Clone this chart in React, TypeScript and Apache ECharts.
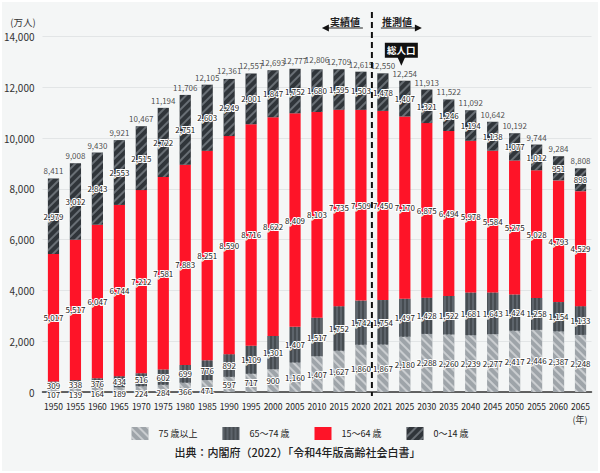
import React, { useEffect, useRef } from "react";
import * as echarts from "echarts";

const years = ["1950","1955","1960","1965","1970","1975","1980","1985","1990","1995","2000","2005","2010","2015","2020","2021","2025","2030","2035","2040","2045","2050","2055","2060","2065"];
const age75plus = [107,139,164,189,224,284,366,471,597,717,900,1160,1407,1627,1860,1867,2180,2288,2260,2239,2277,2417,2446,2387,2248];
const age65to74 = [309,338,376,434,516,602,699,776,892,1109,1301,1407,1517,1752,1742,1754,1497,1428,1522,1681,1643,1424,1258,1154,1133];
const age15to64 = [5017,5517,6047,6744,7212,7581,7883,8251,8590,8716,8622,8409,8103,7735,7509,7450,7170,6875,6494,5978,5584,5275,5028,4793,4529];
const age0to14 = [2979,3012,2843,2553,2515,2722,2751,2603,2249,2001,1847,1752,1680,1595,1503,1478,1407,1321,1246,1194,1138,1077,1012,951,898];
const totals = [8411,9008,9430,9921,10467,11194,11706,12105,12361,12557,12693,12777,12806,12709,12615,12550,12254,11913,11522,11092,10642,10192,9744,9284,8808];
const seriesNames = ["75 歳以上", "65～74 歳", "15～64 歳", "0～14 歳"];
const yTicks = { min: 0, max: 14000, interval: 2000 };

const FONT = "'Noto Sans CJK JP', 'Noto Sans', sans-serif";
const fmt = (v: number) => Number(v).toLocaleString("en-US");

export default function App() {
  const ref = useRef<HTMLDivElement>(null);
  useEffect(() => {
    if (!ref.current) return;
    const chart = echarts.init(ref.current, null, { renderer: "svg" });
    const inside = {
      show: true,
      position: "inside",
      fontSize: 8,
      fontFamily: FONT,
      color: "#222",
      textBorderColor: "#fff",
      textBorderWidth: 2,
      formatter: (p: any) => fmt(p.value),
    };
    // thin bottom segments: nudge their labels down a little, as in the reference
    const age75Data = age75plus.map((v) => (v < 500 ? { value: v, label: { offset: [0, 4] } } : v));
    chart.setOption({
      animation: false,
      backgroundColor: "#f4f6f6",
      textStyle: { fontFamily: FONT },
      grid: { left: 42.5, right: 8.5, top: 36.5, bottom: 81, containLabel: false },
      legend: {
        data: seriesNames,
        top: 422,
        left: "center",
        itemWidth: 17,
        itemHeight: 13,
        itemGap: 25,
        icon: "rect",
        textStyle: { fontSize: 9, color: "#222", fontFamily: FONT, padding: [0, 0, 0, 5] },
        selectedMode: false,
      },
      xAxis: {
        type: "category",
        data: years,
        axisTick: { show: false },
        axisLine: { lineStyle: { color: "#333", width: 1.5 } },
        axisLabel: { interval: 0, fontSize: 8.5, color: "#222", margin: 10, fontFamily: FONT },
      },
      yAxis: {
        type: "value",
        min: yTicks.min,
        max: yTicks.max,
        interval: yTicks.interval,
        axisLine: { show: false },
        axisTick: { show: false },
        splitLine: { lineStyle: { color: "#e2e5e6", width: 1 } },
        axisLabel: { fontSize: 10, color: "#333", margin: 8, fontFamily: FONT, formatter: (v: number) => fmt(v) },
      },
      series: [
        {
          name: seriesNames[0], type: "bar", stack: "pop", barWidth: "51%", data: age75Data,
          itemStyle: { color: "#9ea4a9", decal: { symbol: "rect", symbolSize: 1, color: "rgba(255,255,255,0.45)", dashArrayX: [1, 0], dashArrayY: [2, 4], rotation: Math.PI / 4 } },
          label: inside,
        },
        {
          name: seriesNames[1], type: "bar", stack: "pop", data: age65to74,
          itemStyle: { color: "#5d646b", decal: { symbol: "rect", symbolSize: 1, color: "rgba(60,65,70,0.7)", dashArrayX: [1, 0], dashArrayY: [2, 2], rotation: Math.PI / 2 } },
          label: inside,
        },
        {
          name: seriesNames[2], type: "bar", stack: "pop", data: age15to64,
          itemStyle: { color: "#fe1428" },
          label: inside,
        },
        {
          name: seriesNames[3], type: "bar", stack: "pop", data: age0to14,
          itemStyle: { color: "#30353a", decal: { symbol: "rect", symbolSize: 1, color: "rgba(150,158,165,0.55)", dashArrayX: [1, 0], dashArrayY: [2, 4], rotation: -Math.PI / 4 } },
          label: inside,
        },
        {
          name: "total", type: "scatter", data: totals, symbolSize: 1, silent: true, z: 10,
          itemStyle: { color: "rgba(0,0,0,0)" },
          label: { show: true, position: "top", distance: 3, fontSize: 8, color: "#222", fontFamily: FONT, formatter: (p: any) => fmt(p.value) },
        },
      ],
    });

    const x14 = chart.convertToPixel({ xAxisIndex: 0 }, 14) as number;
    const x15 = chart.convertToPixel({ xAxisIndex: 0 }, 15) as number;
    const midX = (x14 + x15) / 2;
    const x16 = chart.convertToPixel({ xAxisIndex: 0 }, 16) as number;
    const top16 = chart.convertToPixel({ yAxisIndex: 0 }, totals[16]) as number;
    const y0 = chart.convertToPixel({ yAxisIndex: 0 }, 0) as number;
    const arrowY = 28;

    chart.setOption({
      graphic: [
        { type: "rect", silent: true, shape: { x: 0, y: 0, width: 600, height: 473 }, style: { fill: "none", stroke: "#fff", lineWidth: 4 } },
        { type: "line", silent: true, shape: { x1: midX, y1: 12, x2: midX, y2: y0 + 4 }, style: { stroke: "#111", lineWidth: 2, lineDash: [6, 4] }, z: 20 },
        { type: "text", x: midX - 12, y: 21, style: { text: "実績値", fontSize: 10, fontWeight: "bold", fill: "#222", align: "right", verticalAlign: "middle", fontFamily: FONT } },
        { type: "line", shape: { x1: midX - 9, y1: arrowY, x2: midX - 44, y2: arrowY }, style: { stroke: "#222", lineWidth: 1 } },
        { type: "polygon", shape: { points: [[midX - 50, arrowY], [midX - 43, arrowY - 3.5], [midX - 43, arrowY + 3.5]] }, style: { fill: "#111" } },
        { type: "text", x: midX + 10, y: 21, style: { text: "推測値", fontSize: 10, fontWeight: "bold", fill: "#222", align: "left", verticalAlign: "middle", fontFamily: FONT } },
        { type: "line", shape: { x1: midX + 9, y1: arrowY, x2: midX + 44, y2: arrowY }, style: { stroke: "#222", lineWidth: 1 } },
        { type: "polygon", shape: { points: [[midX + 50, arrowY], [midX + 43, arrowY - 3.5], [midX + 43, arrowY + 3.5]] }, style: { fill: "#111" } },
        { type: "rect", shape: { x: x16 - 20, y: top16 - 38, width: 33, height: 15 }, style: { fill: "#111" }, z: 30 },
        { type: "text", x: x16 - 3.5, y: top16 - 30.5, style: { text: "総人口", fontSize: 9.5, fontWeight: "bold", fill: "#fff", align: "center", verticalAlign: "middle", fontFamily: FONT }, z: 31 },
        { type: "polygon", shape: { points: [[x16 - 3.5 - 4, top16 - 24], [x16 - 3.5 + 4, top16 - 24], [x16 - 3.5, top16 - 15]] }, style: { fill: "#111" }, z: 30 },
        { type: "text", x: 23, y: 22, style: { text: "(万人)", fontSize: 9.5, fill: "#333", align: "center", verticalAlign: "middle", fontFamily: FONT } },
        { type: "text", x: 580, y: 419, style: { text: "(年)", fontSize: 9, fill: "#333", align: "center", verticalAlign: "middle", fontFamily: FONT } },
        { type: "text", x: 297.5, y: 452, style: { text: "出典：内閣府（2022）「令和4年版高齢社会白書」", fontSize: 11, fontWeight: 500, fill: "#222", align: "center", verticalAlign: "middle", fontFamily: FONT } },
      ],
    });
    return () => chart.dispose();
  }, []);
  return <div ref={ref} style={{ position: "fixed", left: 0, top: 0, width: 600, height: 473 }} />;
}
